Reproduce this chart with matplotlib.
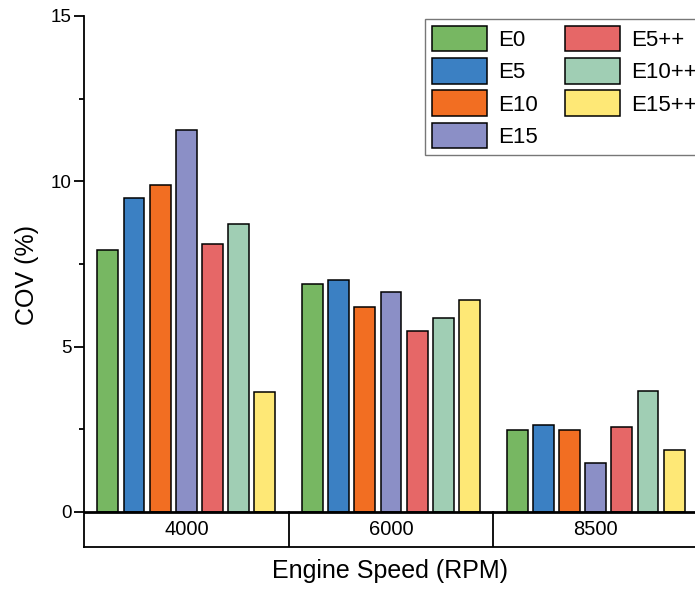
import numpy as np
import matplotlib.pyplot as plt

plt.rcParams['font.family'] = ['Liberation Sans', 'DejaVu Sans']

speeds = ['4000', '6000', '8500']
fuels = ['E0', 'E5', 'E10', 'E15', 'E5++', 'E10++', 'E15++']
colors = ['#77B762', '#3B80C3', '#F26E22', '#8B8FC6', '#E66767', '#A0CEB4', '#FEE876']

cov = {
    'E0':    [7.92, 6.90, 2.48],
    'E5':    [9.50, 7.01, 2.62],
    'E10':   [9.88, 6.20, 2.47],
    'E15':   [11.56, 6.64, 1.47],
    'E5++':  [8.09, 5.48, 2.58],
    'E10++': [8.70, 5.88, 3.67],
    'E15++': [3.64, 6.40, 1.88],
}

fig = plt.figure(figsize=(6.95, 5.9), dpi=100)
ax = fig.add_axes([84/695, 43/590, 614/695, 531/590])

x = np.arange(len(speeds))
pitch = 0.128
width = 0.102
for i, f in enumerate(fuels):
    ax.bar(x + (i - 3) * pitch, cov[f], width, color=colors[i],
           edgecolor='black', linewidth=1.1, label=f, zorder=3)

ybot = -35 * 15 / 496
ax.set_xlim(-0.5, len(speeds) - 0.5)
ax.set_ylim(ybot, 15)

# category "table" below the zero line
ax.axhline(0, color='black', linewidth=2, zorder=4)
for b in x[1:] - 0.5:
    ax.plot([b, b], [ybot, 0], color='black', linewidth=1.3, zorder=4)
for xi, s in zip(x, speeds):
    ax.text(xi, ybot / 2, s, ha='center', va='center', fontsize=14.5)

ax.set_xticks([])
ax.set_yticks([0, 5, 10, 15])
ax.set_yticks([2.5, 7.5, 12.5], minor=True)
ax.tick_params(axis='y', which='major', length=7, width=1.3, labelsize=13.5,
               direction='out', pad=2)
ax.tick_params(axis='y', which='minor', length=3.5, width=1.3, direction='out')

for side in ['top', 'right']:
    ax.spines[side].set_visible(False)
ax.spines['left'].set_linewidth(1.3)
ax.spines['bottom'].set_linewidth(1.3)

ax.set_ylabel('COV (%)', fontsize=18)
ax.set_xlabel('Engine Speed (RPM)', fontsize=18)
ax.yaxis.set_label_coords(-0.074, 0.512)
ax.xaxis.set_label_coords(0.498, -0.022)

leg = ax.legend(ncol=2, loc='upper left', bbox_to_anchor=(341/614, 1.0 - 3/531),
                fontsize=16, frameon=True, fancybox=False, edgecolor='#555555',
                handlelength=2.5, handleheight=1.4, handletextpad=0.5,
                columnspacing=1.2, labelspacing=0.3, borderpad=0.3, borderaxespad=0)
leg.get_frame().set_linewidth(1.0)

fig.savefig('out.png', dpi=100)
